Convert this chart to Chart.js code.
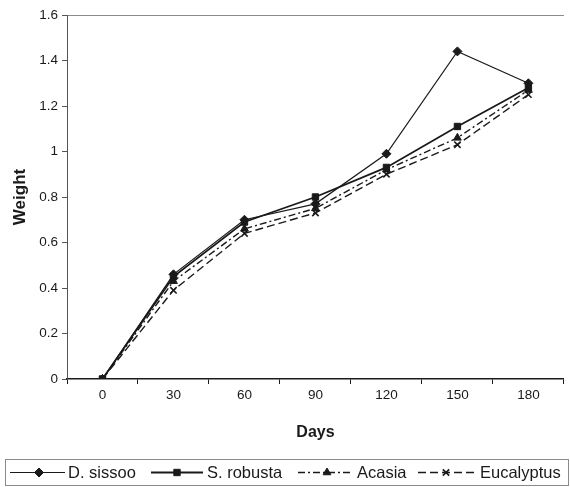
<!DOCTYPE html>
<html>
<head>
<meta charset="utf-8">
<script src="https://cdn.jsdelivr.net/npm/chart.js@4/dist/chart.umd.min.js"></script>
<style>
  html, body { margin: 0; padding: 0; background: #fff; }
  #wrap { width: 570px; height: 487px; position: relative; }
</style>
</head>
<body>
<div id="wrap"><canvas id="chart"></canvas></div>
<script>
// Chart data
const days = ["0", "30", "60", "90", "120", "150", "180"];
const dSissoo = [0, 0.46, 0.70, 0.77, 0.99, 1.44, 1.30];
const sRobusta = [0, 0.45, 0.69, 0.80, 0.93, 1.11, 1.28];
const acasia = [0, 0.43, 0.66, 0.75, 0.92, 1.06, 1.27];
const eucalyptus = [0, 0.39, 0.64, 0.73, 0.90, 1.03, 1.25];
const seriesNames = ["D. sissoo", "S. robusta", "Acasia", "Eucalyptus"];

const FONT = "'Liberation Sans', Arial, sans-serif";
const INK = "#1a1a1a";

function lineSet(label, data, style, radius, width, dash) {
  return {
    label: label,
    data: data,
    borderColor: INK,
    backgroundColor: INK,
    borderWidth: width,
    borderDash: dash,
    pointStyle: style,
    pointRadius: radius,
    pointBorderWidth: style === "crossRot" ? 1.6 : 1,
    pointBorderColor: INK,
    pointBackgroundColor: INK,
    tension: 0,
    fill: false,
  };
}

// Boxed legend under the x-axis title, with line + marker samples
const boxedLegend = {
  id: "boxedLegend",
  afterDraw(chart) {
    const ctx = chart.ctx;
    ctx.save();
    ctx.strokeStyle = "#8a8a8a";
    ctx.lineWidth = 1;
    ctx.strokeRect(5.5, 459.5, 563, 26);

    const items = [
      { x0: 10, x1: 65, mx: 39, tx: 68 },
      { x0: 151, x1: 203, mx: 177, tx: 207 },
      { x0: 298, x1: 353, mx: 327, tx: 357 },
      { x0: 418, x1: 475, mx: 446, tx: 480 },
    ];
    const y = 472.5;
    chart.data.datasets.forEach((ds, i) => {
      const it = items[i];
      ctx.strokeStyle = INK;
      ctx.lineWidth = ds.borderWidth;
      ctx.setLineDash(ds.borderDash || []);
      ctx.beginPath();
      ctx.moveTo(it.x0, y);
      ctx.lineTo(it.x1, y);
      ctx.stroke();
      ctx.setLineDash([]);
      ctx.fillStyle = INK;
      ctx.lineWidth = ds.pointBorderWidth;
      Chart.helpers.drawPoint(ctx, {
        pointStyle: ds.pointStyle,
        radius: ds.pointRadius,
        rotation: 0,
        borderWidth: ds.pointBorderWidth,
      }, it.mx, y);
      ctx.fillStyle = INK;
      ctx.font = "16.5px " + FONT;
      ctx.textBaseline = "middle";
      ctx.fillText(seriesNames[i], it.tx, y + 0.5);
    });
    ctx.restore();
  },
};

new Chart(document.getElementById("chart"), {
  type: "line",
  data: {
    labels: days,
    datasets: [
      lineSet(seriesNames[0], dSissoo, "rectRot", 4.5, 1.2, []),
      lineSet(seriesNames[1], sRobusta, "rect", 4.5, 1.8, []),
      lineSet(seriesNames[2], acasia, "triangle", 4.5, 1.4, [7, 3, 2, 3]),
      lineSet(seriesNames[3], eucalyptus, "crossRot", 4.5, 1.4, [8, 4]),
    ],
  },
  options: {
    responsive: true,
    maintainAspectRatio: false,
    animation: false,
    layout: { padding: { left: 10, right: 3, top: 15, bottom: 45 } },
    plugins: {
      legend: { display: false },
      tooltip: { enabled: false },
    },
    scales: {
      x: {
        type: "category",
        offset: true,
        border: { color: INK, width: 1.5 },
        grid: {
          offset: true,
          drawOnChartArea: false,
          tickLength: 5,
          tickColor: INK,
        },
        ticks: {
          color: INK,
          padding: 3,
          font: { family: FONT, size: 13.5 },
          maxRotation: 0,
        },
        title: {
          display: true,
          text: "Days",
          color: INK,
          padding: 0,
          font: { family: FONT, size: 16, weight: "bold" },
        },
        afterFit(scale) { scale.height = 63; },
      },
      y: {
        min: 0,
        max: 1.6,
        border: { color: "#555", width: 1 },
        grid: {
          drawOnChartArea: true,
          tickLength: 5,
          tickColor: "#555",
          color: (c) => (c.tick && c.tick.value === 1.6 ? "#8a8a8a" : "rgba(0,0,0,0)"),
        },
        ticks: {
          stepSize: 0.2,
          color: INK,
          padding: 4,
          font: { family: FONT, size: 13.5 },
          callback: (v) => String(+Number(v).toFixed(1)),
        },
        title: {
          display: true,
          text: "Weight",
          color: INK,
          padding: 0,
          font: { family: FONT, size: 17, weight: "bold" },
        },
        afterFit(scale) { scale.width = 57; },
      },
    },
  },
  plugins: [boxedLegend],
});
</script>
</body>
</html>
